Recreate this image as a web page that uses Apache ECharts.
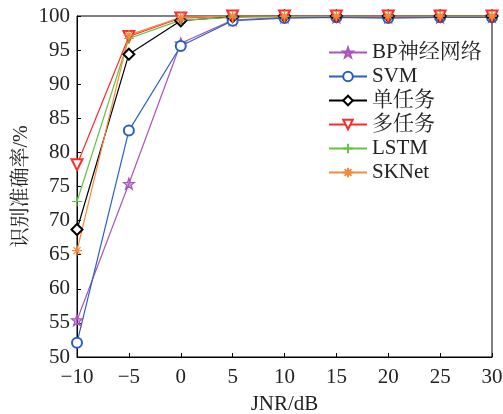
<!DOCTYPE html>
<html><head><meta charset="utf-8">
<script src="https://cdn.jsdelivr.net/npm/echarts@6/dist/echarts.min.js"></script>
<style>html,body{margin:0;padding:0;background:#fff}#c{width:503px;height:414px}</style>
</head><body><div id="c"></div>
<script>
const jnr = [-10, -5, 0, 5, 10, 15, 20, 25, 30];
const bp     = [55.4, 75.4, 96.0, 99.4, 99.8, 99.8, 99.8, 99.8, 99.9];
const svm    = [52.1, 83.2, 95.6, 99.3, 99.7, 99.8, 99.7, 99.8, 99.8];
const single = [68.7, 94.4, 99.3, 99.9, 100, 100, 100, 100, 100];
const multi  = [78.2, 97.0, 99.7, 100, 100, 100, 100, 100, 100];
const lstm   = [72.8, 96.7, 99.4, 99.8, 99.9, 100, 100, 100, 100];
const sknet  = [65.6, 97.2, 99.8, 100, 100, 100, 100, 100, 100];
const names = ['BP神经网络', 'SVM', '单任务', '多任务', 'LSTM', 'SKNet'];
const colors = ['#a855c0', '#2b5fbf', '#000000', '#ff2a2a', '#66c244', '#f5883a'];

const FONT = '"Liberation Serif", "Noto Serif CJK SC", "Noto Sans CJK SC", serif';
const starPath = 'path://M5,0L6.18,3.38L9.76,3.45L6.9,5.62L7.94,9.05L5,7L2.06,9.05L3.1,5.62L0.24,3.45L3.82,3.38Z';
const plusPath = 'path://M5,0L5,10M0,5L10,5';
const astPath = 'path://M5,0L5,10M0,5L10,5M1.5,1.5L8.5,8.5M8.5,1.5L1.5,8.5';

function mk(name, arr, color, symbol, size, extra) {
  return Object.assign({
    name: name, type: 'line', data: jnr.map((x, i) => [x, arr[i]]),
    symbol: symbol, symbolSize: size, showAllSymbol: true,
    lineStyle: { color: color, width: 1.2 },
    itemStyle: { color: color, borderColor: color, borderWidth: 1.2 },
    emphasis: { disabled: true }
  }, extra || {});
}

const chart = echarts.init(document.getElementById('c'));
chart.setOption({
  animation: false,
  backgroundColor: '#fff',
  grid: { left: 77, right: 11, top: 16, bottom: 57, show: true, borderColor: '#000', borderWidth: 1,
          containLabel: false, outerBoundsMode: 'none' },
  legend: {
    orient: 'vertical', left: 323, top: 37, itemWidth: 38, itemHeight: 12, itemGap: 3,
    textStyle: { fontFamily: FONT, fontSize: 21, color: '#222', lineHeight: 21 },
    data: names
  },
  xAxis: {
    type: 'value', min: -10, max: 30, interval: 5,
    name: 'JNR/dB', nameLocation: 'middle', nameGap: 37, nameMoveOverlap: false,
    nameTextStyle: { fontFamily: FONT, fontSize: 21, color: '#222' },
    axisLine: { onZero: false, lineStyle: { color: '#000', width: 1 } },
    axisTick: { inside: true, length: 4, lineStyle: { color: '#000' } },
    axisLabel: { fontFamily: FONT, fontSize: 21, color: '#222', margin: 10,
      formatter: v => (v < 0 ? '\u2212' + Math.abs(v) : String(v)) },
    splitLine: { show: false }
  },
  yAxis: {
    type: 'value', min: 50, max: 100, interval: 5,
    name: '识别准确率/%', nameLocation: 'middle', nameGap: 45, nameMoveOverlap: false,
    nameTextStyle: { fontFamily: FONT, fontSize: 20, color: '#222' },
    axisLine: { onZero: false, lineStyle: { color: '#000', width: 1 } },
    axisTick: { inside: true, length: 4, lineStyle: { color: '#000' } },
    axisLabel: { fontFamily: FONT, fontSize: 21, color: '#222', margin: 7, padding: [12, 0, 0, 0] },
    splitLine: { show: false }
  },
  series: [
    mk(names[0], bp, colors[0], starPath, 11, { itemStyle: { color: 'rgba(168,85,192,0.55)', borderColor: colors[0], borderWidth: 1.2 } }),
    mk(names[1], svm, colors[1], 'emptyCircle', 10, { itemStyle: { color: colors[1], borderColor: colors[1], borderWidth: 1.8 } }),
    mk(names[2], single, colors[2], 'emptyDiamond', 11),
    mk(names[3], multi, colors[3], 'emptyTriangle', 11, { symbolRotate: 180 }),
    mk(names[4], lstm, colors[4], plusPath, 10),
    mk(names[5], sknet, colors[5], astPath, 10)
  ]
});
</script></body></html>
